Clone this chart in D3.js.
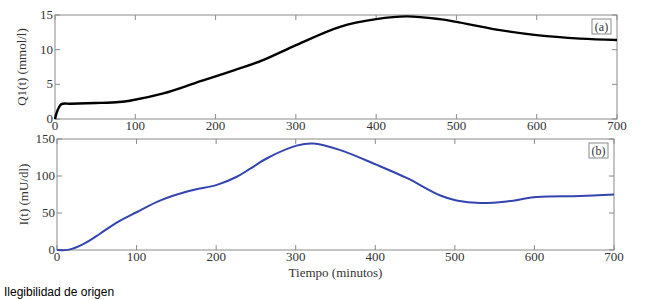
<!DOCTYPE html>
<html>
<head>
<meta charset="utf-8">
<script src="https://cdn.jsdelivr.net/npm/d3@7"></script>
<style>
  body { margin: 0; background: #fff; }
  svg { display: block; }
</style>
</head>
<body>
<div id="graph-container"></div>
<script>
// Datos
const q1Time = [0, 3, 8, 20, 50, 80, 93, 135, 176, 218, 259, 301, 355, 400, 438, 479, 500, 550, 600, 654, 700];
const q1Values = [0, 1.2, 2.15, 2.2, 2.3, 2.45, 2.64, 3.7, 5.24, 6.83, 8.5, 10.7, 13.3, 14.4, 14.8, 14.4, 14.0, 12.9, 12.1, 11.6, 11.4];

const insTime = [0, 15, 33, 54, 75, 100, 130, 167, 201, 226, 243, 264, 301, 322, 356, 402, 440, 481, 502, 532, 565, 603, 657, 700];
const insValues = [0, 0.5, 8, 22, 37, 51, 67, 80, 88, 99, 110, 124, 141, 144, 135, 115, 97, 74, 67, 63.5, 65.5, 71.5, 73, 75];

const xTicks = [0, 100, 200, 300, 400, 500, 600, 700];
const q1Ticks = [0, 5, 10, 15];
const insTicks = [0, 50, 100, 150];

const width = 648, height = 300;
const serif = "'Liberation Serif', 'Times New Roman', serif";
const frameColor = "#8a8a8a";

const svg = d3.select("#graph-container").append("svg")
    .attr("width", width)
    .attr("height", height);

// Funzione per disegnare un pannello
function drawPanel(box, times, values, yTicks, yMax, color, lineWidth, yLabel, tag, showXLabel) {
  const x = d3.scaleLinear().domain([0, 700]).range([box.left, box.right]);
  const y = d3.scaleLinear().domain([0, yMax]).range([box.bottom, box.top]);

  const g = svg.append("g");

  // ticks interni su tutti i lati
  const tickLen = 5;
  xTicks.forEach(t => {
    g.append("line").attr("x1", x(t)).attr("x2", x(t))
      .attr("y1", box.bottom).attr("y2", box.bottom - tickLen)
      .attr("stroke", frameColor);
    g.append("line").attr("x1", x(t)).attr("x2", x(t))
      .attr("y1", box.top).attr("y2", box.top + tickLen)
      .attr("stroke", frameColor);
    g.append("text").attr("x", x(t)).attr("y", box.bottom + 11)
      .attr("text-anchor", "middle")
      .attr("font-family", serif).attr("font-size", 13).attr("fill", "#333")
      .text(t);
  });
  yTicks.forEach(v => {
    g.append("line").attr("x1", box.left).attr("x2", box.left + tickLen)
      .attr("y1", y(v)).attr("y2", y(v)).attr("stroke", frameColor);
    g.append("line").attr("x1", box.right).attr("x2", box.right - tickLen)
      .attr("y1", y(v)).attr("y2", y(v)).attr("stroke", frameColor);
    g.append("text").attr("x", box.left - 2).attr("y", y(v) + 4)
      .attr("text-anchor", "end")
      .attr("font-family", serif).attr("font-size", 13).attr("fill", "#333")
      .text(v);
  });

  g.append("rect")
    .attr("x", box.left).attr("y", box.top)
    .attr("width", box.right - box.left).attr("height", box.bottom - box.top)
    .attr("fill", "none").attr("stroke", frameColor);

  const line = d3.line()
    .x((d, i) => x(times[i]))
    .y(d => y(d))
    .curve(d3.curveCatmullRom.alpha(0.5));

  g.append("path")
    .datum(values)
    .attr("d", line)
    .attr("fill", "none")
    .attr("stroke", color)
    .attr("stroke-width", lineWidth)
    .attr("stroke-linejoin", "round");

  // etichetta asse y
  const cy = (box.top + box.bottom) / 2;
  g.append("text")
    .attr("transform", `translate(${box.left - 29},${cy}) rotate(-90)`)
    .attr("text-anchor", "middle")
    .attr("font-family", serif).attr("font-size", 13).attr("fill", "#333")
    .text(yLabel);

  // riquadro (a)/(b)
  g.append("rect")
    .attr("x", box.right - 25).attr("y", box.top + 4)
    .attr("width", 19).attr("height", 15)
    .attr("fill", "#fff").attr("stroke", frameColor);
  g.append("text")
    .attr("x", box.right - 15.5).attr("y", box.top + 15.5)
    .attr("text-anchor", "middle")
    .attr("font-family", serif).attr("font-size", 12).attr("fill", "#333")
    .text(tag);

  if (showXLabel) {
    g.append("text")
      .attr("x", (box.left + box.right) / 2).attr("y", box.bottom + 27)
      .attr("text-anchor", "middle")
      .attr("font-family", serif).attr("font-size", 13).attr("fill", "#333")
      .text("Tiempo (minutos)");
  }
}

drawPanel({ left: 55, right: 617, top: 15, bottom: 119 },
  q1Time, q1Values, q1Ticks, 15, "#000", 2.4, "Q1(t) (mmol/l)", "(a)", false);

drawPanel({ left: 57, right: 614, top: 139, bottom: 250 },
  insTime, insValues, insTicks, 150, "#3344b0", 2, "I(t) (mU/dl)", "(b)", true);

svg.append("text")
  .attr("x", 4).attr("y", 296)
  .attr("font-family", "'Liberation Sans', Arial, sans-serif")
  .attr("font-size", 12).attr("fill", "#000")
  .text("Ilegibilidad de origen");
</script>
</body>
</html>
